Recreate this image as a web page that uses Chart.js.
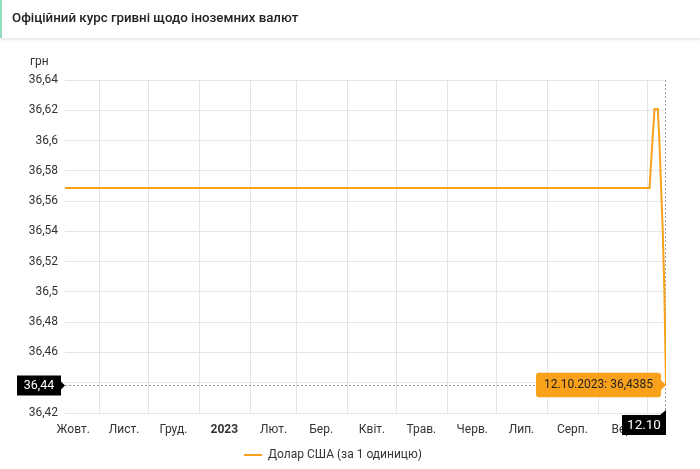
<!DOCTYPE html>
<html lang="uk">
<head>
<meta charset="utf-8">
<title>Офіційний курс гривні щодо іноземних валют</title>
<script src="https://cdn.jsdelivr.net/npm/chart.js@4.4.0/dist/chart.umd.min.js"></script>
<style>
    html, body { margin: 0; padding: 0; background: #fff; }
    body { font-family: Roboto, sans-serif; }
    .wrap { position: relative; width: 700px; height: 469px; overflow: hidden; }
    .header {
        position: absolute; left: 0; top: 0; width: 698px; height: 38px;
        border-left: 2px solid #93dcbc; background: #fff; z-index: 2;
        box-shadow: 0 1px 3px rgba(0, 0, 0, 0.15);
    }
    .header h1 { margin: 0; padding-left: 10px; font-size: 13.3px; font-weight: 500; color: #222; line-height: 36px; }
    .graf-box { position: absolute; left: 0; top: 0; width: 700px; height: 469px; }
</style>
</head>
<body>
<div class="wrap">
    <div class="header"><h1>Офіційний курс гривні щодо іноземних валют</h1></div>
    <div class="graf-box"><canvas id="graf"></canvas></div>
</div>
<script>
// kurz USD (NBU), den -> hodnota
const dates = [
    "2022-10-11", "2023-10-02", "2023-10-03", "2023-10-04", "2023-10-05", "2023-10-06",
    "2023-10-07", "2023-10-08", "2023-10-09", "2023-10-10", "2023-10-11", "2023-10-12"
];
const usdRates = [
    36.5686, 36.5686, 36.5870, 36.6040, 36.6209, 36.6209,
    36.6209, 36.5990, 36.5690, 36.5410, 36.5010, 36.4385
];

// osa X: čáry mřížky na začátku měsíce, popisky uprostřed
const gridDates = [
    "2022-11-01", "2022-12-01", "2023-01-01", "2023-02-01", "2023-03-01", "2023-04-01",
    "2023-05-01", "2023-06-01", "2023-07-01", "2023-08-01", "2023-09-01", "2023-10-01"
];
const labelDates = [
    "2022-10-16", "2022-11-16", "2022-12-16", "2023-01-16", "2023-02-15", "2023-03-16",
    "2023-04-16", "2023-05-16", "2023-06-16", "2023-07-16", "2023-08-16", "2023-09-16"
];
const monthLabels = ["Жовт.", "Лист.", "Груд.", "2023", "Лют.", "Бер.", "Квіт.", "Трав.", "Черв.", "Лип.", "Серп.", "Вер."];

const yTicks = [36.42, 36.44, 36.46, 36.48, 36.5, 36.52, 36.54, 36.56, 36.58, 36.6, 36.62, 36.64];

const seriesName = "Долар США (за 1 одиницю)";
const unitLabel = "грн";
const orange = "#f9a11b";

const startDay = Date.UTC(2022, 9, 11);
function dayNum(s) {
    const [y, m, d] = s.split("-").map(Number);
    return (Date.UTC(y, m - 1, d) - startDay) / 86400000;
}
function fmtNum(v, digits) {
    return String(parseFloat(v.toFixed(digits))).replace(".", ",");
}
function fmtDate(s) {
    const [y, m, d] = s.split("-");
    return `${d}.${m}.${y}`;
}

const points = dates.map((d, i) => ({ x: dayNum(d), y: usdRates[i] }));
const last = points.length - 1;
const xMin = dayNum(dates[0]);
const xMax = dayNum(dates[last]);

Chart.defaults.font.family = "Roboto, sans-serif";
Chart.defaults.color = "#333";

const crosshair = {
    id: "crosshair",
    beforeDatasetsDraw(chart) {
        const { ctx, chartArea } = chart;
        const pt = chart.getDatasetMeta(0).data[last];
        const px = Math.round(pt.x) - 0.5;
        const py = Math.round(pt.y) + 0.5;
        ctx.save();
        ctx.strokeStyle = "#a0a0a0";
        ctx.lineWidth = 1;
        ctx.setLineDash([2, 2]);
        ctx.beginPath();
        ctx.moveTo(chartArea.left, py);
        ctx.lineTo(px, py);
        ctx.moveTo(px, chartArea.top);
        ctx.lineTo(px, chartArea.bottom);
        ctx.stroke();
        ctx.restore();
    },
    afterDraw(chart) {
        const { ctx, chartArea } = chart;
        const pt = chart.getDatasetMeta(0).data[last];
        ctx.save();

        // jednotka nad osou Y
        ctx.fillStyle = "#333";
        ctx.font = "12px Roboto, sans-serif";
        ctx.textAlign = "left";
        ctx.textBaseline = "middle";
        ctx.fillText(unitLabel, 30, 62);

        // popisek na ose Y
        const yr = chartArea.left - 4;
        const yc = Math.round(pt.y) + 0.5;
        ctx.fillStyle = "#000";
        ctx.fillRect(yr - 44, yc - 10, 44, 20);
        ctx.beginPath();
        ctx.moveTo(yr, yc - 4);
        ctx.lineTo(yr + 4, yc);
        ctx.lineTo(yr, yc + 4);
        ctx.fill();
        ctx.fillStyle = "#fff";
        ctx.textAlign = "center";
        ctx.font = "12.5px Roboto, sans-serif";
        ctx.fillText(fmtNum(usdRates[last], 2), yr - 22, yc + 0.5);

        // popisek na ose X
        const xr = Math.round(pt.x);
        const top = chartArea.bottom + 2;
        ctx.fillStyle = "#000";
        ctx.fillRect(xr - 44, top, 44, 20);
        ctx.beginPath();
        ctx.moveTo(xr - 6, top);
        ctx.lineTo(xr, top - 5);
        ctx.lineTo(xr, top);
        ctx.fill();
        ctx.fillStyle = "#fff";
        ctx.font = "13.5px Roboto, sans-serif";
        const [, mm, dd] = dates[last].split("-");
        ctx.fillText(`${dd}.${mm}`, xr - 22, top + 10.5);
        ctx.restore();
    }
};

const ctx = document.getElementById("graf").getContext("2d");
const graf = new Chart(ctx, {
    type: "line",
    data: {
        datasets: [{
            label: seriesName,
            data: points,
            borderColor: orange,
            backgroundColor: orange,
            borderWidth: 2,
            pointRadius: 0,
            pointHoverRadius: 0,
            tension: 0,
            fill: false
        }]
    },
    options: {
        responsive: true,
        maintainAspectRatio: false,
        animation: false,
        events: [],
        layout: { padding: { top: 80, right: 34, bottom: -2, left: 0 } },
        scales: {
            x: {
                type: "linear",
                min: xMin,
                max: xMax,
                afterBuildTicks: scale => { scale.ticks = gridDates.map(d => ({ value: dayNum(d) })); },
                ticks: { display: false },
                grid: { color: "#e4e4e4", drawTicks: false },
                border: { display: false }
            },
            x2: {
                type: "linear",
                position: "bottom",
                min: xMin,
                max: xMax,
                afterBuildTicks: scale => { scale.ticks = labelDates.map(d => ({ value: dayNum(d) })); },
                afterFit: scale => { scale.height = 36; },
                ticks: {
                    autoSkip: false,
                    maxRotation: 0,
                    padding: 2,
                    color: "#333",
                    font: c => (monthLabels[c.index] === "2023" ? { size: 12, weight: "bold" } : { size: 12 }),
                    callback: (v, i) => monthLabels[i]
                },
                grid: { display: false },
                border: { display: false }
            },
            y: {
                min: yTicks[0],
                max: yTicks[yTicks.length - 1],
                afterBuildTicks: scale => { scale.ticks = yTicks.map(v => ({ value: v })); },
                afterFit: scale => { scale.width = 65; },
                ticks: {
                    padding: 7,
                    color: "#333",
                    font: { size: 12 },
                    callback: v => fmtNum(v, 2)
                },
                grid: { color: "#e6e6e6", drawTicks: false },
                border: { display: false }
            }
        },
        plugins: {
            legend: {
                position: "bottom",
                labels: {
                    usePointStyle: true,
                    pointStyle: "line",
                    pointStyleWidth: 18,
                    padding: 0,
                    color: "#333",
                    font: { size: 12 }
                }
            },
            tooltip: {
                enabled: true,
                xAlign: "right",
                yAlign: "center",
                caretSize: 5,
                caretPadding: 0,
                cornerRadius: 3,
                padding: { x: 8, y: 5 },
                backgroundColor: orange,
                bodyColor: "#222",
                bodyFont: { size: 12 },
                displayColors: false,
                callbacks: {
                    title: () => "",
                    label: item => `${fmtDate(dates[item.dataIndex])}: ${fmtNum(item.parsed.y, 4)}`
                }
            }
        }
    },
    plugins: [crosshair]
});

const lastPt = graf.getDatasetMeta(0).data[last];
graf.tooltip.setActiveElements([{ datasetIndex: 0, index: last }], { x: lastPt.x, y: lastPt.y });
graf.update();
</script>
</body>
</html>
